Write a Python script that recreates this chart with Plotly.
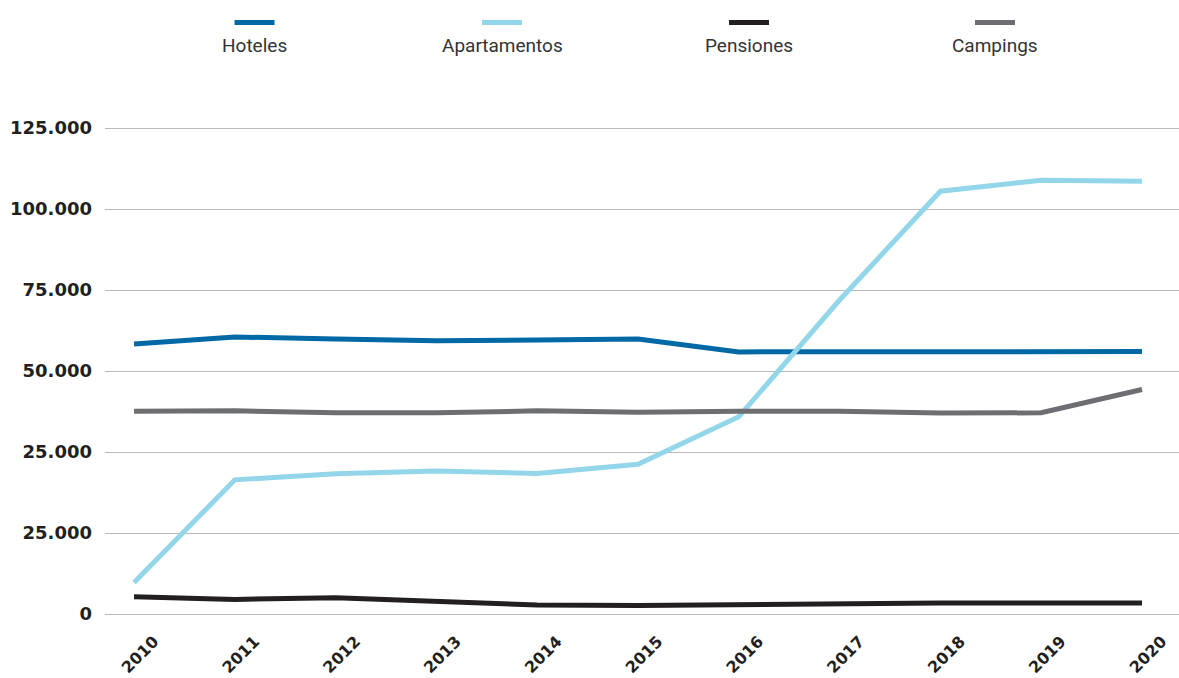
import plotly.graph_objects as go

# ---- data (axis units: each gridline = 25,000) ----
years = [2010, 2011, 2012, 2013, 2014, 2015, 2016, 2017, 2018, 2019, 2020]
hoteles = [83300, 85500, 84900, 84300, 84600, 84900, 80900, 80900, 80900, 81000, 81000]
apartamentos = [9700, 41400, 43300, 44100, 43400, 46200, 60900, 96900, 130500, 133900, 133600]
pensiones = [5300, 4500, 5000, 3800, 2800, 2600, 2900, 3400, 3400, 3400, 3400]
campings = [62600, 62700, 62100, 62100, 62700, 62300, 62600, 62600, 62000, 62100, 69300]

series_names = ["Hoteles", "Apartamentos", "Pensiones", "Campings"]
series_values = [hoteles, apartamentos, pensiones, campings]
series_colors = ["#0068a5", "#93d6ea", "#231f20", "#6d6e71"]

y_tickvals = [0, 25000, 50000, 75000, 100000, 125000, 150000]
y_ticktext = ["0", "25.000", "25.000", "50.000", "75.000", "100.000", "125.000"]
x_ticktext = [str(y) for y in years]

W, H = 1179, 678
ML, MR, MT, MB = 105, 0, 124, 60
# 486 px correspond to 150,000 units; pad 4 px on each side so edge gridlines show
UNITS_PER_PX = 150000 / 486
Y_MIN = -4 * UNITS_PER_PX
Y_MAX = 150000 + 4 * UNITS_PER_PX

fig = go.Figure()
for name, vals, col in zip(series_names, series_values, series_colors):
    fig.add_trace(go.Scatter(x=years, y=vals, mode="lines", name=name,
                             line=dict(color=col, width=5), showlegend=False))

# custom legend: swatch above label
def px_to_paper_x(px):
    return (px - ML) / (W - ML - MR)

def px_to_paper_y(py):
    return (H - MB - py) / (H - MT - MB)

legend_centers = [254.5, 502, 749, 995]
shapes = []
annotations = []
for name, col, cx in zip(series_names, series_colors, legend_centers):
    shapes.append(dict(type="line", xref="paper", yref="paper",
                       x0=px_to_paper_x(cx - 20), x1=px_to_paper_x(cx + 20),
                       y0=px_to_paper_y(22.5), y1=px_to_paper_y(22.5),
                       line=dict(color=col, width=5)))
    annotations.append(dict(xref="paper", yref="paper", x=px_to_paper_x(cx),
                            y=px_to_paper_y(45), text=name, showarrow=False,
                            xanchor="center", yanchor="middle",
                            font=dict(family="Roboto", size=19, color="#333333")))

fig.update_layout(
    width=W, height=H,
    margin=dict(l=ML, r=MR, t=MT, b=MB, pad=0),
    paper_bgcolor="white", plot_bgcolor="white",
    shapes=shapes, annotations=annotations,
    xaxis=dict(range=[2009.712, 2020.367], tickmode="array", tickvals=years,
               ticktext=x_ticktext, tickangle=-45, showgrid=False, zeroline=False,
               showline=False, ticks="", ticklabelstandoff=10, ticklabelshift=20,
               tickfont=dict(family="DejaVu Sans", size=16, color="#231f20", weight="bold")),
    yaxis=dict(range=[Y_MIN, Y_MAX], tickmode="array", tickvals=y_tickvals,
               ticktext=y_ticktext, showgrid=True, gridcolor="#b9b9b9", gridwidth=1,
               zeroline=False, showline=False, ticks="", ticklabelstandoff=12,
               tickfont=dict(family="DejaVu Sans", size=18, color="#231f20", weight="bold")),
)

fig.write_html("out.html")
